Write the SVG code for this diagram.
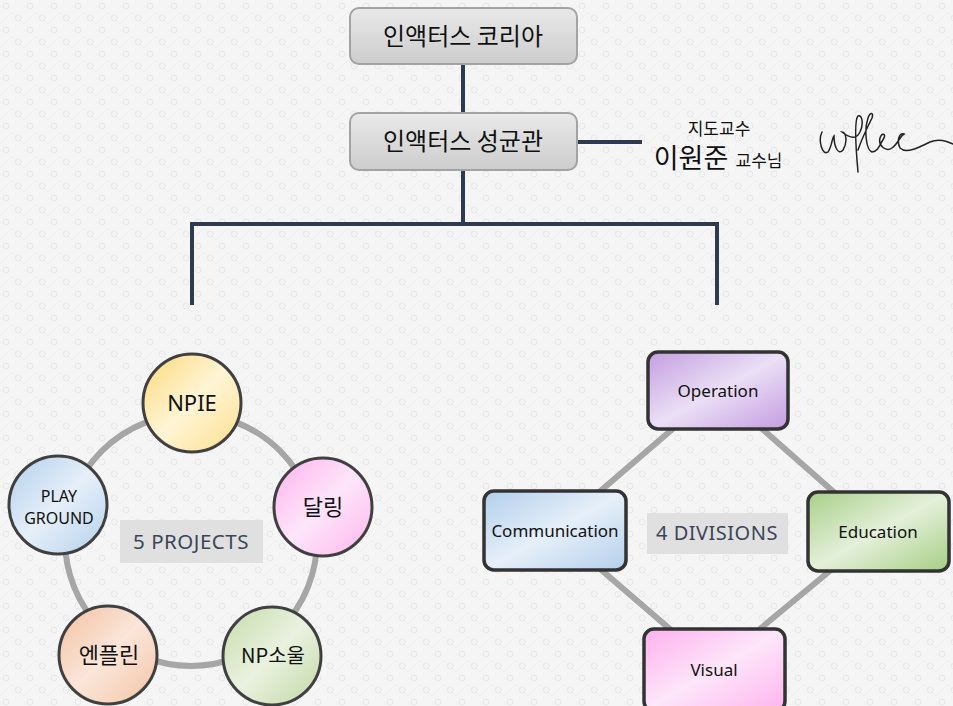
<svg xmlns="http://www.w3.org/2000/svg" width="953" height="706" viewBox="0 0 953 706">
<defs>
<style>
.org{stroke:#2e3a4d;stroke-width:4;fill:none}
.gray{stroke:#a6a6a6;stroke-width:6;fill:none}
.top{stroke:#a3a3a3;stroke-width:2}
.pc{stroke:#404040;stroke-width:3}
.db{stroke:#333;stroke-width:3.5}
.t{font-family:"Noto Sans","Noto Sans CJK KR",sans-serif;fill:#111;text-anchor:middle}
.k{font-family:"Noto Sans CJK KR","Noto Sans",sans-serif;fill:#111;text-anchor:middle}
.lbl{fill:#dedede;fill-opacity:0.9}
.lt{font-family:"Noto Sans","Noto Sans CJK KR",sans-serif;fill:#3a4658;text-anchor:middle;letter-spacing:0.5px}
</style>
<pattern id="bg" width="24" height="24" patternUnits="userSpaceOnUse">
<rect width="24" height="24" fill="#f5f5f5"/>
<circle cx="6" cy="6" r="3" fill="none" stroke="#e8e8e8" stroke-width="1"/>
<circle cx="18" cy="18" r="3" fill="none" stroke="#eaeaea" stroke-width="1"/>
<path d="M0 24L12 12L24 24" fill="none" stroke="#eeeeee" stroke-width="1"/>
</pattern>
<linearGradient id="gTop" x1="0" y1="0" x2="0" y2="1">
<stop offset="0" stop-color="#e9e9e9"/><stop offset="1" stop-color="#cdcdcd"/>
</linearGradient>
<linearGradient id="gY" x1="0" y1="0" x2="1" y2="1">
<stop offset="0" stop-color="#fcd978"/><stop offset="0.5" stop-color="#fff5d6"/><stop offset="1" stop-color="#fddf8c"/>
</linearGradient>
<linearGradient id="gP" x1="0" y1="0" x2="1" y2="1">
<stop offset="0" stop-color="#ffb0ee"/><stop offset="0.5" stop-color="#fde6fa"/><stop offset="1" stop-color="#ffb4ee"/>
</linearGradient>
<linearGradient id="gG" x1="0" y1="0" x2="1" y2="1">
<stop offset="0" stop-color="#c4dcaa"/><stop offset="0.5" stop-color="#eaf2e0"/><stop offset="1" stop-color="#c0d8a4"/>
</linearGradient>
<linearGradient id="gO" x1="0" y1="0" x2="1" y2="1">
<stop offset="0" stop-color="#f2c0a0"/><stop offset="0.5" stop-color="#fbe6da"/><stop offset="1" stop-color="#f3c4a4"/>
</linearGradient>
<linearGradient id="gB" x1="0" y1="0" x2="1" y2="1">
<stop offset="0" stop-color="#b2cfec"/><stop offset="0.5" stop-color="#e6eff9"/><stop offset="1" stop-color="#b4d0ec"/>
</linearGradient>
<linearGradient id="gV" x1="0" y1="0" x2="1" y2="1">
<stop offset="0" stop-color="#c39ee0"/><stop offset="0.5" stop-color="#ebdff6"/><stop offset="1" stop-color="#c49ce0"/>
</linearGradient>
<linearGradient id="gEd" x1="0" y1="0" x2="1" y2="1">
<stop offset="0" stop-color="#a8cf88"/><stop offset="0.5" stop-color="#e4f0da"/><stop offset="1" stop-color="#a6ce84"/>
</linearGradient>
</defs>

<rect width="953" height="706" fill="url(#bg)"/>

<g id="connectors">
<line class="org" x1="463" y1="64" x2="463" y2="113"/>
<line class="org" x1="577" y1="142" x2="642" y2="142"/>
<polyline class="org" points="463,170 463,224"/>
<polyline class="org" points="192,305 192,224 717,224 717,305"/>
<circle class="gray" cx="191" cy="540" r="126" stroke-width="5"/>
<polygon class="gray" points="718,390 878,531 714,667 555,530"/>
</g>

<g id="inactus-korea">
<rect class="top" x="350" y="8" width="227" height="56" rx="9" fill="url(#gTop)"/>
<text class="k" x="463" y="45" font-size="24">인액터스 코리아</text>
</g>
<g id="inactus-skku">
<rect class="top" x="350" y="113" width="227" height="57" rx="9" fill="url(#gTop)"/>
<text class="k" x="463" y="150" font-size="24">인액터스 성균관</text>
</g>

<g id="advisor">
<text class="k" x="719" y="135" font-size="17">지도교수</text>
<text class="k" x="691" y="168" font-size="27">이원준</text>
<text class="k" x="759" y="167" font-size="17">교수님</text>
<path d="M822 132 C818 140 822 156 828 152 C832 146 832 138 834 136 C834 146 838 156 843 150 C848 142 846 132 842 132 C852 140 857 138 860 132 C864 124 862 114 858 116 C854 120 856 150 858 172 M858 150 C862 138 868 126 872 118 C874 112 870 112 868 118 C864 130 866 150 872 152 C878 152 880 144 884 138 C886 134 882 132 880 138 C878 146 886 152 892 148 C898 144 900 136 904 134 C900 132 896 140 900 148 C906 154 918 148 930 142 C940 138 948 142 953 144" fill="none" stroke="#222" stroke-width="1.5" stroke-linecap="round"/>
</g>

<g id="label-5-projects">
<rect class="lbl" x="120" y="520" width="143" height="43"/>
<text class="lt" x="191" y="549" font-size="20.5">5 PROJECTS</text>
</g>

<g id="npie">
<circle class="pc" cx="192" cy="403" r="49" fill="url(#gY)"/>
<text class="t" x="192" y="411" font-size="22">NPIE</text>
</g>
<g id="darling">
<circle class="pc" cx="323" cy="507" r="49" fill="url(#gP)"/>
<text class="k" x="323" y="515" font-size="22">달링</text>
</g>
<g id="np-soul">
<circle class="pc" cx="272" cy="656" r="49" fill="url(#gG)"/>
<text class="k" x="273" y="663" font-size="20">NP소울</text>
</g>
<g id="enplin">
<circle class="pc" cx="108" cy="655" r="49" fill="url(#gO)"/>
<text class="k" x="109" y="663" font-size="22">엔플린</text>
</g>
<g id="playground">
<circle class="pc" cx="58" cy="505" r="49" fill="url(#gB)"/>
<text class="t" x="59" y="502" font-size="16">PLAY</text>
<text class="t" x="59" y="524" font-size="16">GROUND</text>
</g>

<g id="label-4-divisions">
<rect class="lbl" x="647" y="513" width="141" height="41"/>
<text class="lt" x="717" y="540" font-size="20">4 DIVISIONS</text>
</g>

<g id="operation">
<rect class="db" x="648" y="352" width="140" height="77" rx="10" fill="url(#gV)"/>
<text class="t" x="718" y="397" font-size="17">Operation</text>
</g>
<g id="communication">
<rect class="db" x="484" y="491" width="142" height="79" rx="10" fill="url(#gB)"/>
<text class="t" x="555" y="537" font-size="17">Communication</text>
</g>
<g id="education">
<rect class="db" x="808" y="492" width="141" height="79" rx="10" fill="url(#gEd)"/>
<text class="t" x="878" y="538" font-size="17">Education</text>
</g>
<g id="visual">
<rect class="db" x="644" y="629" width="141" height="82" rx="10" fill="url(#gP)"/>
<text class="t" x="714" y="676" font-size="17">Visual</text>
</g>
</svg>
